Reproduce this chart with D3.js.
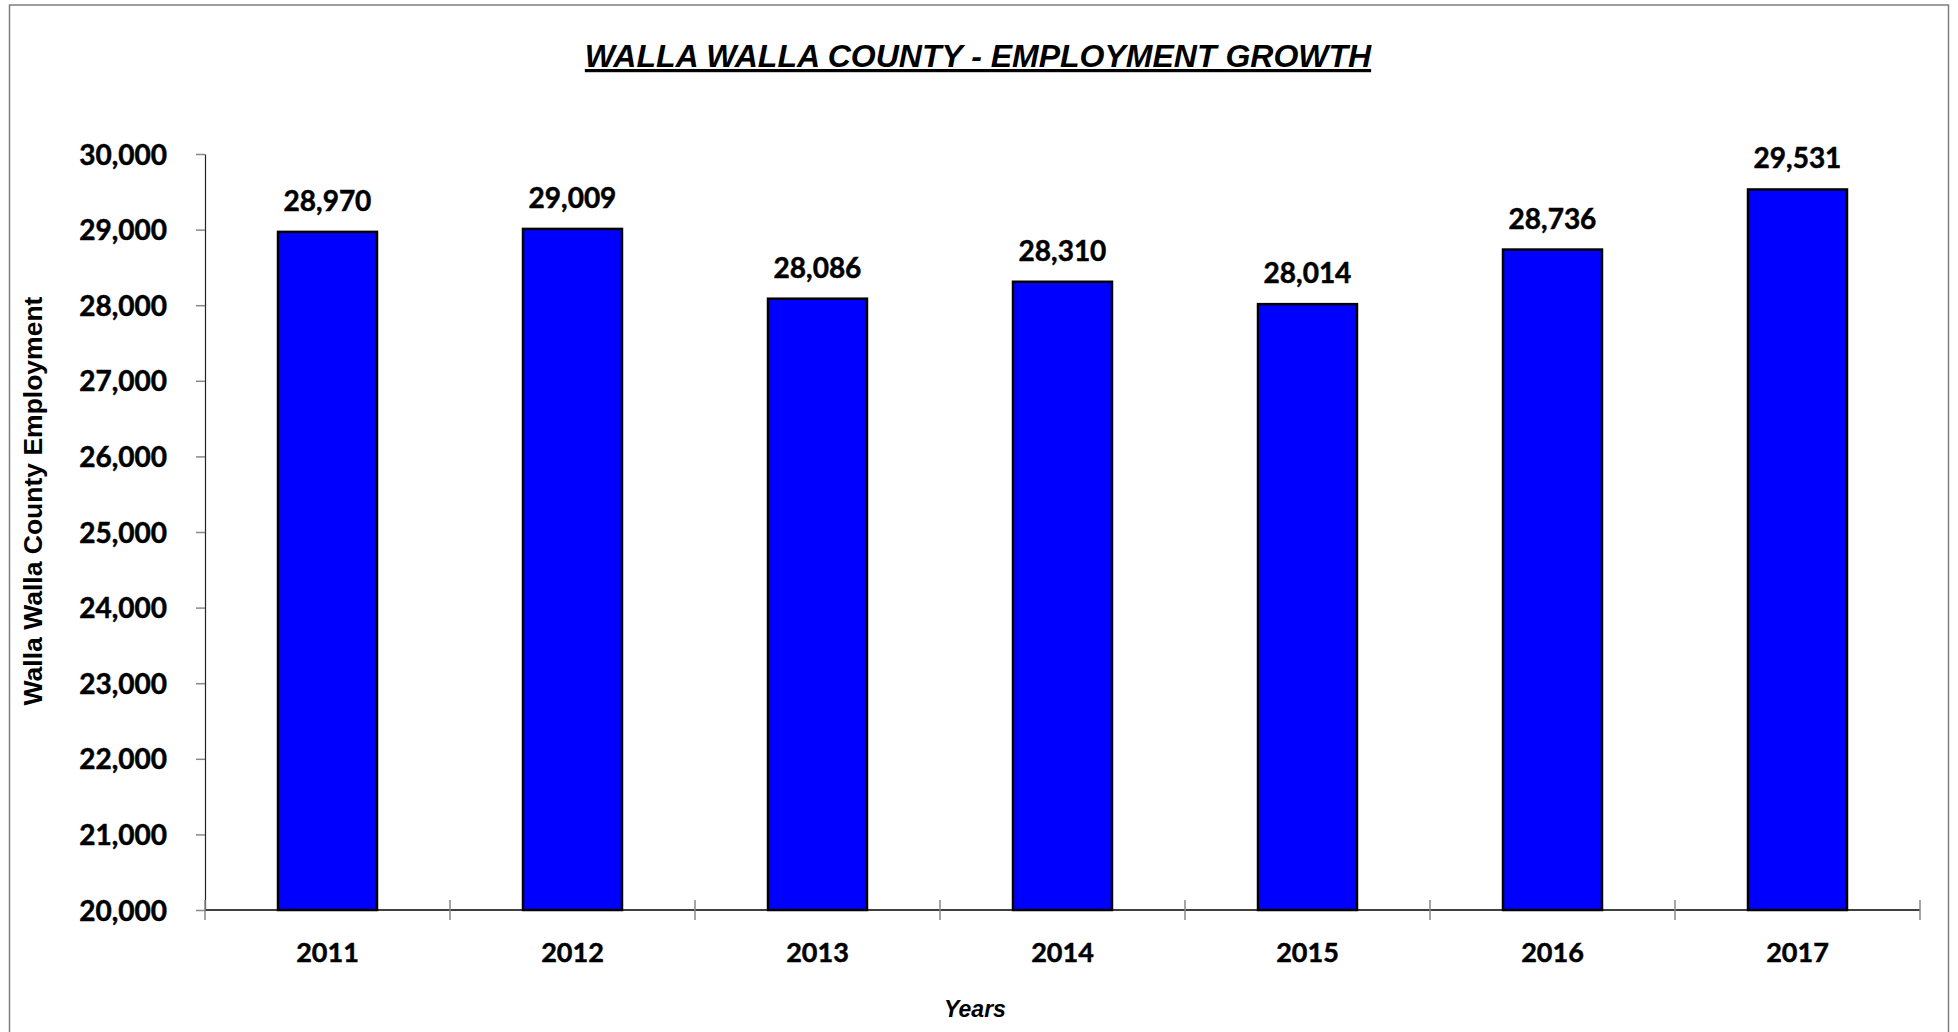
<!DOCTYPE html>
<html>
<head>
<meta charset="utf-8">
<script src="https://cdn.jsdelivr.net/npm/d3@7"></script>
<style>
  body { margin: 0; background: #fff; }
  svg { display: block; }
  .num { font-family: Lato, sans-serif; font-weight: bold; fill: #000; stroke: #000; stroke-width: 0.5px; }
  .ttl { font-family: "Liberation Sans", Arial, sans-serif; font-weight: bold; fill: #000; }
</style>
</head>
<body>
<svg width="1958" height="1032"></svg>
<script>
const years = ['2011', '2012', '2013', '2014', '2015', '2016', '2017'];
const employment = [28970, 29009, 28086, 28310, 28014, 28736, 29531];
const yTicks = [20000, 21000, 22000, 23000, 24000, 25000, 26000, 27000, 28000, 29000, 30000];

const width = 1958;
const height = 1032;
const margin = {top: 154, right: 38, bottom: 122, left: 205};

const svg = d3.select('svg');

// outer frame
svg.append('rect')
    .attr('x', 9.5)
    .attr('y', 5)
    .attr('width', 1939)
    .attr('height', 1040)
    .attr('fill', 'none')
    .attr('stroke', '#7f7f7f')
    .attr('stroke-width', 1.5);

const x = d3.scaleBand()
    .domain(years)
    .range([margin.left, width - margin.right])
    .paddingInner(0.596)
    .paddingOuter(0.298);

const y = d3.scaleLinear()
    .domain([20000, 30000])
    .range([height - margin.bottom, margin.top]);

// y axis
const yAxis = svg.append('g')
    .attr('transform', `translate(${margin.left}, 0)`)
    .call(d3.axisLeft(y).tickValues(yTicks).tickFormat(d3.format(',')).tickSize(9).tickSizeOuter(0).tickPadding(29));
yAxis.select('.domain').attr('stroke', '#222').attr('stroke-width', 1.2);
yAxis.selectAll('.tick line').attr('stroke', '#888').attr('stroke-width', 1.5);
yAxis.selectAll('.tick text').attr('class', 'num').attr('font-size', 28).attr('dy', '0.36em');

// bars
const data = years.map((d, i) => ({year: d, value: employment[i]}));

svg.selectAll('.bar').data(data)
    .enter().append('rect')
    .attr('class', 'bar')
    .attr('x', d => x(d.year))
    .attr('y', d => y(d.value))
    .attr('width', x.bandwidth())
    .attr('height', d => y(20000) - y(d.value))
    .attr('fill', '#0000ff')
    .attr('stroke', '#000')
    .attr('stroke-width', 2.5);

svg.selectAll('.val').data(data)
    .enter().append('text')
    .attr('class', 'num')
    .attr('x', d => x(d.year) + x.bandwidth() / 2)
    .attr('y', d => y(d.value) - 21)
    .attr('text-anchor', 'middle')
    .attr('font-size', 28)
    .text(d => d3.format(',')(d.value));

// x axis: labels from the band scale, ticks at band edges
const xAxis = svg.append('g')
    .attr('transform', `translate(0, ${y(20000)})`)
    .call(d3.axisBottom(x).tickSize(0).tickPadding(33));
xAxis.select('.domain').remove();
xAxis.selectAll('.tick text').attr('class', 'num').attr('font-size', 27);

xAxis.append('line')
    .attr('x1', margin.left)
    .attr('x2', width - margin.right)
    .attr('stroke', '#000')
    .attr('stroke-width', 1.5);

const edges = d3.range(years.length + 1).map(i => x.range()[0] + i * x.step());
xAxis.selectAll('.edge').data(edges)
    .enter().append('line')
    .attr('class', 'edge')
    .attr('x1', d => d)
    .attr('x2', d => d)
    .attr('y1', -10)
    .attr('y2', 10)
    .attr('stroke', '#888')
    .attr('stroke-width', 1.5);

// titles
svg.append('text')
    .attr('class', 'ttl')
    .attr('x', 978)
    .attr('y', 67)
    .attr('text-anchor', 'middle')
    .attr('font-size', 32)
    .attr('font-style', 'italic')
    .style('text-decoration', 'underline')
    .text('WALLA WALLA COUNTY - EMPLOYMENT GROWTH');

svg.append('text')
    .attr('class', 'ttl')
    .attr('transform', 'translate(42, 501) rotate(-90)')
    .attr('text-anchor', 'middle')
    .attr('font-size', 26.5)
    .text('Walla Walla County Employment');

svg.append('text')
    .attr('class', 'ttl')
    .attr('x', 975)
    .attr('y', 1017)
    .attr('text-anchor', 'middle')
    .attr('font-size', 23)
    .attr('font-style', 'italic')
    .text('Years');
</script>
</body>
</html>
